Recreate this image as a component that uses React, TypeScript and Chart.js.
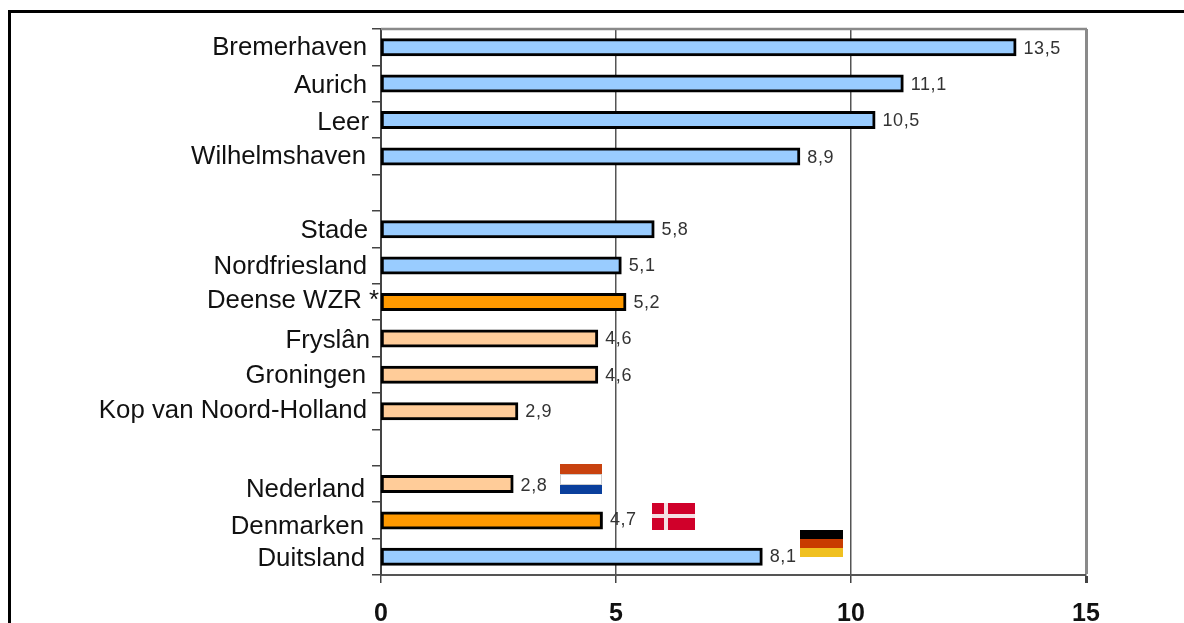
import React, { useEffect, useRef } from "react";
import { Chart, registerables } from "chart.js";

Chart.register(...registerables);

const categories = ["Bremerhaven", "Aurich", "Leer", "Wilhelmshaven", "", "Stade", "Nordfriesland", "Deense WZR *", "Fryslân", "Groningen", "Kop van Noord-Holland", "", "Nederland", "Denmarken", "Duitsland"];
const values = [13.5, 11.1, 10.5, 8.9, null, 5.8, 5.1, 5.2, 4.6, 4.6, 2.9, null, 2.8, 4.7, 8.1];
const BLUE = "#99ccff", ORANGE = "#ff9900", PEACH = "#ffcc99";
const barColors = [BLUE, BLUE, BLUE, BLUE, BLUE, BLUE, BLUE, ORANGE, PEACH, PEACH, PEACH, PEACH, PEACH, ORANGE, BLUE];
const xTicks = [0, 5, 10, 15];
// hand-placed nudges of the category labels in the original (right end and baseline shift)
const labelRight = [367, 367, 369, 366, 0, 368, 367, 379, 370, 366, 367, 0, 365, 364, 365];
const labelBaseline = [8, 9, 10, 8, 0, 9, 8, 6, 10, 8, 7, 0, 13, 14, 9];
const valueShiftY = [2, 1, 1, 2, 0, 1, 0, 1, 1, 1, 1, 0, 2, 0, 0];

const decorations = {
  id: "decorations",
  afterDatasetsDraw(chart: any) {
    const { ctx, chartArea: a, scales } = chart;
    ctx.save();
    // plot frame: top edge
    ctx.strokeStyle = "#8a8a8a";
    ctx.lineWidth = 2.5;
    ctx.beginPath();
    ctx.moveTo(a.left, a.top);
    ctx.lineTo(a.right + 1, a.top);
    ctx.stroke();

    // category labels
    ctx.fillStyle = "#111";
    ctx.font = "25.8px 'Liberation Sans', Arial, sans-serif";
    ctx.textAlign = "right";
    ctx.textBaseline = "alphabetic";
    categories.forEach((c, i) => {
      if (c) ctx.fillText(c, labelRight[i], scales.y.getPixelForValue(i) + labelBaseline[i]);
    });

    // value labels
    ctx.fillStyle = "#333";
    ctx.font = "18px 'Liberation Sans', Arial, sans-serif";
    (ctx as any).letterSpacing = "0.6px";
    ctx.textAlign = "left";
    ctx.textBaseline = "middle";
    values.forEach((v, i) => {
      if (v == null) return;
      ctx.fillText(String(v).replace(".", ","), scales.x.getPixelForValue(v) + 8, scales.y.getPixelForValue(i) + valueShiftY[i]);
    });
    (ctx as any).letterSpacing = "0px";

    // flags
    const stripes = (x: number, y: number, w: number, cols: string[], h: number) => {
      cols.forEach((col, k) => {
        ctx.fillStyle = col;
        ctx.fillRect(x, y + (k * h) / cols.length, w, h / cols.length);
      });
    };
    stripes(560, 464, 42, ["#c8420f", "#ffffff", "#0a3f9c"], 30);
    ctx.strokeStyle = "#ccc";
    ctx.lineWidth = 1;
    ctx.strokeRect(560.5, 474.5, 41, 10);
    ctx.fillStyle = "#d0002a";
    ctx.fillRect(652, 503, 43, 27);
    ctx.fillStyle = "#f4dfe3";
    ctx.fillRect(664, 503, 4, 27);
    ctx.fillRect(652, 514, 43, 4);
    stripes(800, 530, 43, ["#000000", "#c83c00", "#f0c020"], 27);
    ctx.restore();
  },
};

export default function App() {
  const ref = useRef<HTMLCanvasElement>(null);
  useEffect(() => {
    const chart = new Chart(ref.current as HTMLCanvasElement, {
      type: "bar",
      data: {
        labels: categories,
        datasets: [{
          data: values,
          backgroundColor: barColors,
          borderColor: "#000",
          borderWidth: 3,
          borderSkipped: false,
          barThickness: 16,
          inflateAmount: 1,
        }],
      },
      plugins: [decorations],
      options: {
        indexAxis: "y",
        animation: false,
        responsive: false,
        layout: { padding: { top: 29, right: 98, left: 0, bottom: 0 } },
        plugins: { legend: { display: false }, tooltip: { enabled: false }, title: { display: false } },
        scales: {
          x: {
            type: "linear",
            min: 0,
            max: 15,
            afterBuildTicks: (s: any) => { s.ticks = xTicks.map((value) => ({ value })); },
            afterFit: (s: any) => { s.height = 48; },
            border: { color: "#555", width: 2 },
            grid: {
              color: (c: any) => (c.tick && c.tick.value === 15 ? "#8a8a8a" : "#555"),
              lineWidth: (c: any) => (c.tick && c.tick.value === 15 ? 3 : 1.5),
              tickColor: "#444",
              tickLength: 8,
            },
            ticks: {
              color: "#111",
              padding: 16,
              maxRotation: 0,
              font: { family: "'Liberation Sans', Arial, sans-serif", size: 25, weight: "bold" },
            },
          },
          y: {
            type: "category",
            afterFit: (s: any) => { s.width = 381; },
            border: { color: "#444", width: 2 },
            grid: { offset: true, drawOnChartArea: false, drawTicks: true, tickLength: 9, color: "#444", lineWidth: 1.5 },
            ticks: { display: false },
          },
        },
      } as any,
    });
    return () => chart.destroy();
  }, []);
  return (
    <div style={{ position: "absolute", left: 0, top: 0, width: 1184, height: 623, overflow: "hidden", background: "#fff" }}>
      <canvas ref={ref} width={1184} height={623} style={{ display: "block" }} />
      <div style={{ position: "absolute", left: 8, top: 10, right: -10, bottom: -10, borderLeft: "3px solid #000", borderTop: "3px solid #000", pointerEvents: "none" }} />
    </div>
  );
}
